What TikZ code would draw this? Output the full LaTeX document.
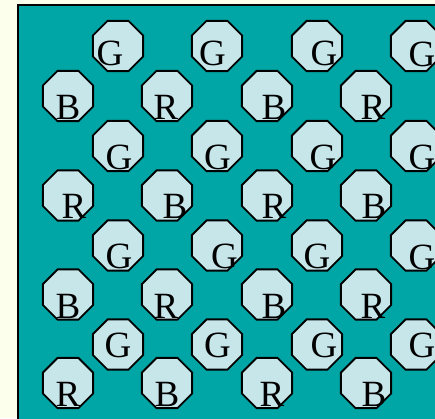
\documentclass[tikz,border=0pt]{standalone}
\usepackage{fontspec}
\setmainfont{Liberation Serif}
\usetikzlibrary{shapes.geometric}
\definecolor{pagebg}{RGB}{251,255,235}
\definecolor{boardteal}{RGB}{0,166,166}
\definecolor{cellfill}{RGB}{198,230,234}
\begin{document}
\begin{tikzpicture}[x=1pt,y=-1pt,
  cell/.style={regular polygon, regular polygon sides=8, minimum size=54.5pt, inner sep=0pt, draw=black, line width=1.9pt, fill=cellfill},
  letter/.style={inner sep=0pt, text=black, font=\fontsize{37}{37}\selectfont}]
\useasboundingbox (0,0) rectangle (435,418);
\fill[pagebg] (0,0) rectangle (435,418);
\begin{scope}
\clip (0,0) rectangle (435,418);
\draw[line width=2pt, fill=boardteal] (18,5) rectangle (445,430);
% G cells
\foreach \cy [count=\r] in {46,146,245.5,344.5}
  \foreach \cx [count=\c] in {118,217,317,416}
    \node[cell] (g-\r-\c) at (\cx,\cy) {};
% B/R cells
\foreach \cy [count=\r] in {96,195.5,294.5,383}
  \foreach \cx [count=\c] in {68,167,267,366}
    \node[cell] (s-\r-\c) at (\cx,\cy) {};
% G letters
\foreach \x/\y/\n in {110/53/1-1,212.5/53/1-2,324/53/1-3,422/54/1-4,
                      119/157/2-1,217.5/157/2-2,323/157/2-3,422/157/2-4,
                      119/256/3-1,224.5/256/3-2,317/256/3-3,422/257/3-4,
                      118/345/4-1,217.5/345/4-2,324/345/4-3,422/345/4-4}
  \node[letter] (lg-\n) at (\x,\y) {G};
% B/R letters
\foreach \x/\y/\t/\n in {68/107/B/1-1,166/107/R/1-2,274/107/B/1-3,373/107/R/1-4,
                         74/206/R/2-1,175/206/B/2-2,274/206/R/2-3,374/206/B/2-4,
                         68/306/B/3-1,166/306/R/3-2,274/306/B/3-3,373/306/R/3-4,
                         68/394.5/R/4-1,167/394.5/B/4-2,272/394.5/R/4-3,374/394.5/B/4-4}
  \node[letter] (ls-\n) at (\x,\y) {\t};
\end{scope}
\end{tikzpicture}
\end{document}
